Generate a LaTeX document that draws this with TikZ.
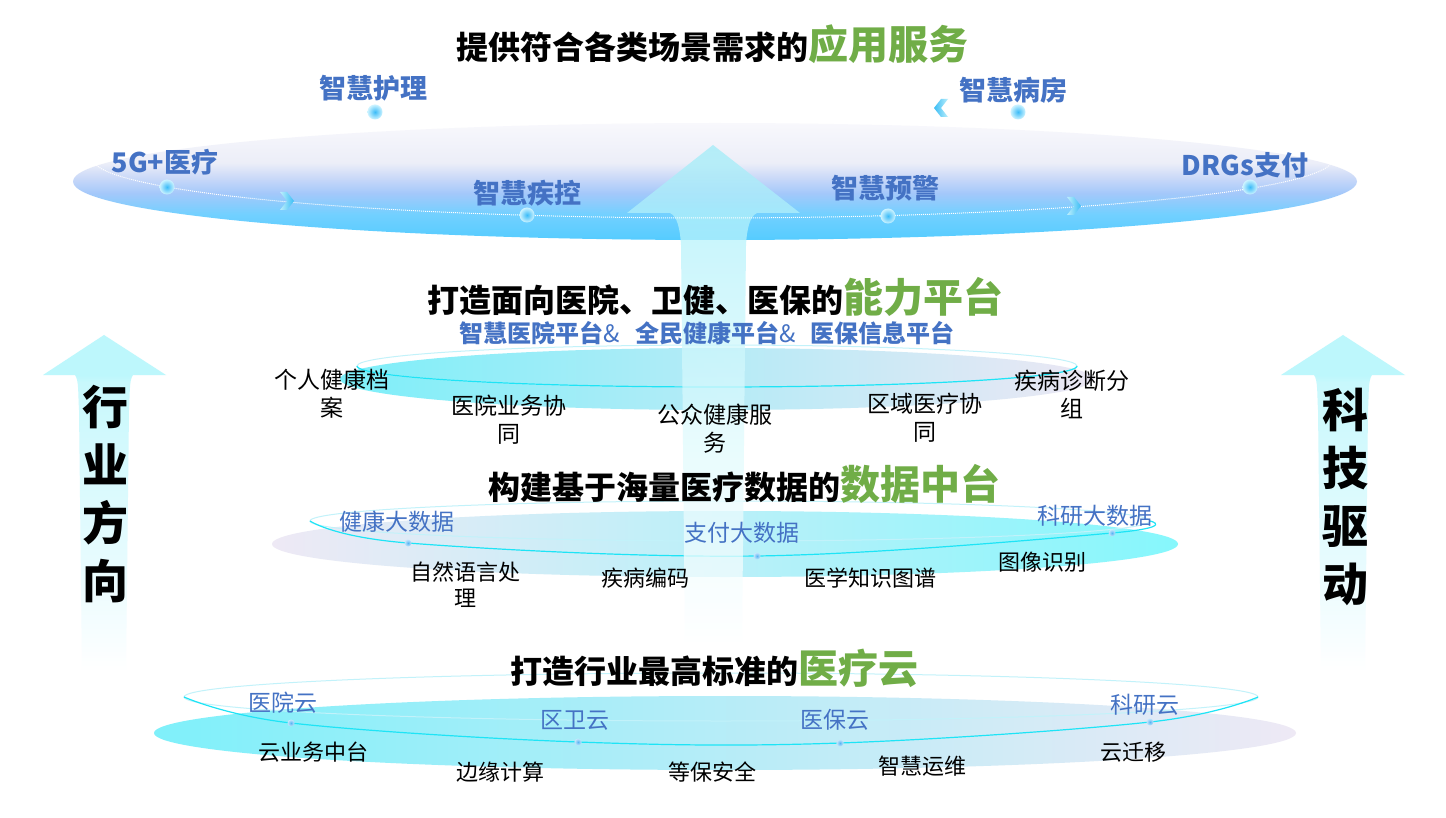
\documentclass[tikz,border=0pt]{standalone}
\usepackage{fontspec}
\setmainfont{Noto Sans CJK SC}
\definecolor{tblue}{HTML}{4472C4}
\definecolor{tgreen}{HTML}{70AD47}
\definecolor{e1}{HTML}{55CCFF}
\definecolor{e2}{HTML}{72D0FF}
\definecolor{e3}{HTML}{A4C8FA}
\definecolor{e4}{HTML}{CCDAF8}
\definecolor{e5}{HTML}{ECEEF8}
\definecolor{e6}{HTML}{F8F8FC}
\definecolor{c2l}{HTML}{7DEFF9}
\definecolor{c2m}{HTML}{C4E0F0}
\definecolor{c2r}{HTML}{ECE7F4}
\definecolor{c3l}{HTML}{EEE9F5}
\definecolor{c3m}{HTML}{CFE2F2}
\definecolor{c3r}{HTML}{86F7FC}
\definecolor{c4l}{HTML}{7FF0FA}
\definecolor{c4m}{HTML}{CCE2F1}
\definecolor{c4r}{HTML}{EEE9F5}
\definecolor{ringc}{HTML}{C2F2FA}
\definecolor{brightc}{HTML}{1EE4F6}
\definecolor{a1}{HTML}{A0ECF8}
\definecolor{a2}{HTML}{B8F3FB}
\definecolor{a3}{HTML}{DCFAFD}
\definecolor{s1}{HTML}{BDF7FC}
\definecolor{s2}{HTML}{C8F8FC}
\definecolor{s3}{HTML}{E6FBFE}
\definecolor{ch1}{HTML}{BDEFFC}
\definecolor{ch2}{HTML}{3BBDF5}
\definecolor{bd1}{HTML}{3CBCF8}
\definecolor{bd2}{HTML}{CDF3FF}
\definecolor{sd1}{HTML}{58B4F4}
\definecolor{sd2}{HTML}{C8E8FC}
\pgfdeclareverticalshading{topell}{100bp}{color(0bp)=(e1); color(25bp)=(e1); color(36bp)=(e2); color(45bp)=(e3); color(52bp)=(e4); color(58bp)=(e5); color(75bp)=(e6); color(100bp)=(e6)}
\pgfdeclareverticalshading{carrow}{100bp}{color(0bp)=(white); color(25bp)=(white); color(48bp)=(a3); color(66bp)=(a2); color(75bp)=(a1); color(100bp)=(a1)}
\pgfdeclareverticalshading{sidearrow}{100bp}{color(0bp)=(white); color(25bp)=(white); color(42bp)=(s3); color(68bp)=(s2); color(69bp)=(s1); color(75bp)=(s1); color(100bp)=(s1)}
\begin{document}
\begin{tikzpicture}[x=1pt,y=-1pt,
  ttl/.style={font=\bfseries\fontsize{32}{38}\selectfont, inner sep=0pt},
  lab/.style={font=\bfseries\fontsize{27}{32}\selectfont, text=tblue, inner sep=0pt},
  subt/.style={font=\bfseries\fontsize{24}{28}\selectfont, text=tblue, inner sep=0pt},
  item/.style={font=\fontsize{23}{28}\selectfont, align=center, inner sep=0pt},
  item3/.style={font=\fontsize{22}{26}\selectfont, align=center, inner sep=0pt},
  blab/.style={font=\fontsize{23}{28}\selectfont, text=tblue, inner sep=0pt},
  sidetxt/.style={font=\bfseries\fontsize{46}{58}\selectfont, align=center, inner sep=0pt},
  ring/.style={draw=ringc, line width=1pt},
  bright/.style={draw=brightc, line width=1.2pt},
  bdot/.style={circle, minimum size=15pt, inner sep=0pt, inner color=bd1, outer color=bd2},
  sdot/.style={circle, minimum size=7pt, inner sep=0pt, inner color=sd1, outer color=sd2},
  chev/.style={left color=ch1, right color=ch2},
  chevl/.style={left color=ch2, right color=ch1}]
\fill[white] (0,0) rectangle (1446,818);
\useasboundingbox (0,0) rectangle (1446,818);

% ---------- top ellipse (applications) ----------
\shade[shading=topell] (715,181.5) ellipse [x radius=642, y radius=58.5];

% ---------- layer 2 (capability platform) ----------
\shade[left color=c2l, middle color=c2m, right color=c2r] (717,379) ellipse [x radius=377, y radius=31];
\draw[ring] (717,366) ellipse [x radius=360, y radius=21];
\draw[bright] plot[domain=0:180, samples=90] ({717+360*cos(\x)},{366+21*sin(\x)});

% ---------- layer 3 (data platform) ----------
\shade[left color=c3l, middle color=c3m, right color=c3r] (725,544) ellipse [x radius=453, y radius=33];
\draw[ring] (730,521) ellipse [x radius=420, y radius=20];
\coordinate (p31) at (408,543);
\coordinate (p32) at (757,556);
\coordinate (p33) at (1112,533);
\draw[bright] plot[smooth, tension=0.6] coordinates {(310,521) (p31) (p32) (p33) (1150,521)};

% ---------- layer 4 (cloud) ----------
\shade[left color=c4l, middle color=c4m, right color=c4r] (725,733) ellipse [x radius=571, y radius=37];
\draw[ring] (721,697) ellipse [x radius=537, y radius=24];
\coordinate (p41) at (291,723);
\coordinate (p42) at (578,742);
\coordinate (p43) at (840,743);
\coordinate (p44) at (1150,722);
\draw[bright] plot[smooth, tension=0.6] coordinates {(184,697) (p41) (p42) (p43) (p44) (1258,697)};

% ---------- central arrow ----------
\shade[shading=carrow, fill opacity=0.75]
  (713,145) -- (800,213) -- (757,213) .. controls (750,216) and (747,228) .. (746,245)
  -- (742,645) -- (685,645) -- (681,245) .. controls (680,228) and (677,216) .. (670,213)
  -- (627,213) -- cycle;

% ---------- side arrows ----------
\shade[shading=sidearrow]
  (104,335) -- (166,375) -- (133,375) .. controls (129,380) and (130,395) .. (129,410)
  -- (126,672) -- (82,672) -- (79,410) .. controls (78,395) and (79,380) .. (75,375)
  -- (43,375) -- cycle;
\shade[shading=sidearrow]
  (1343,335) -- (1405,375) -- (1372,375) .. controls (1368,380) and (1369,395) .. (1368,410)
  -- (1365,672) -- (1321,672) -- (1318,410) .. controls (1317,395) and (1318,380) .. (1314,375)
  -- (1281,375) -- cycle;

% ---------- top layer dotted path, chevrons, dots ----------
\draw[white, densely dotted, line width=1pt] plot[domain=0:180, samples=120] ({713+620*cos(\x)},{159+59*sin(\x)});
\shade[chev] (280,192) -- (287,192) -- (294,201) -- (287,210) -- (280,210) -- (287,201) -- cycle;
\shade[chev] (1067,197) -- (1074,197) -- (1081,206) -- (1074,215) -- (1067,215) -- (1074,206) -- cycle;
\shade[chevl] (948,99) -- (941,99) -- (934,108) -- (941,117) -- (948,117) -- (941,108) -- cycle;

\node[bdot] (d5g) at (167,187) {};
\node[bdot] (djk) at (527,215) {};
\node[bdot] (dyj) at (888,216) {};
\node[bdot] (ddrg) at (1250,187) {};
\node[bdot] (dhl) at (375,112) {};
\node[bdot] (dbf) at (1018,112) {};

\node[sdot] (d31) at (p31) {};
\node[sdot] (d32) at (p32) {};
\node[sdot] (d33) at (p33) {};
\node[sdot] (d41) at (p41) {};
\node[sdot] (d42) at (p42) {};
\node[sdot] (d43) at (p43) {};
\node[sdot] (d44) at (p44) {};

% ---------- titles ----------
\node[ttl] (t1) at (712,44) {提供符合各类场景需求的{\color{tgreen}\fontsize{40}{44}\selectfont 应用服务}};
\node[ttl] (t2) at (715,297) {打造面向医院、卫健、医保的{\color{tgreen}\fontsize{40}{44}\selectfont 能力平台}};
\node[ttl] (t3) at (744,484) {构建基于海量医疗数据的{\color{tgreen}\fontsize{40}{44}\selectfont 数据中台}};
\node[ttl] (t4) at (714,668) {打造行业最高标准的{\color{tgreen}\fontsize{40}{44}\selectfont 医疗云}};

% ---------- top layer labels ----------
\node[lab] (l5g) at (165,162) {5G+医疗};
\node[lab] (lhl) at (373,88) {智慧护理};
\node[lab] (ljk) at (527,193) {智慧疾控};
\node[lab] (lyj) at (885,188) {智慧预警};
\node[lab] (lbf) at (1013,90) {智慧病房};
\node[lab] (ldrg) at (1245,165) {DRGs支付};

% ---------- layer 2 labels ----------
\node[subt] (sub2) at (707,333) {智慧医院平台{\mdseries\&}\hspace{15pt}全民健康平台{\mdseries\&}\hspace{15pt}医保信息平台};
\node[item] (i21) at (332,394) {个人健康档\\案};
\node[item] (i22) at (509,420) {医院业务协\\同};
\node[item] (i23) at (715,429) {公众健康服\\务};
\node[item] (i24) at (925,418) {区域医疗协\\同};
\node[item] (i25) at (1072,394) {疾病诊断分\\组};

% ---------- layer 3 labels ----------
\node[blab] (b31) at (397,522) {健康大数据};
\node[blab] (b32) at (742,533) {支付大数据};
\node[blab] (b33) at (1095,516) {科研大数据};
\node[item3] (i31) at (465,585) {自然语言处\\理};
\node[item3] (i32) at (645,578) {疾病编码};
\node[item3] (i33) at (870,578) {医学知识图谱};
\node[item3] (i34) at (1042,562) {图像识别};

% ---------- layer 4 labels ----------
\node[blab] (b41) at (283,703) {医院云};
\node[blab] (b42) at (575,720) {区卫云};
\node[blab] (b43) at (835,720) {医保云};
\node[blab] (b44) at (1145,705) {科研云};
\node[item3] (i41) at (313,752) {云业务中台};
\node[item3] (i42) at (500,772) {边缘计算};
\node[item3] (i43) at (712,772) {等保安全};
\node[item3] (i44) at (922,766) {智慧运维};
\node[item3] (i45) at (1133,752) {云迁移};

% ---------- side texts ----------
\node[sidetxt] (sl) at (105,494) {行\\业\\方\\向};
\node[sidetxt] (sr) at (1345,497) {科\\技\\驱\\动};
\end{tikzpicture}
\end{document}
